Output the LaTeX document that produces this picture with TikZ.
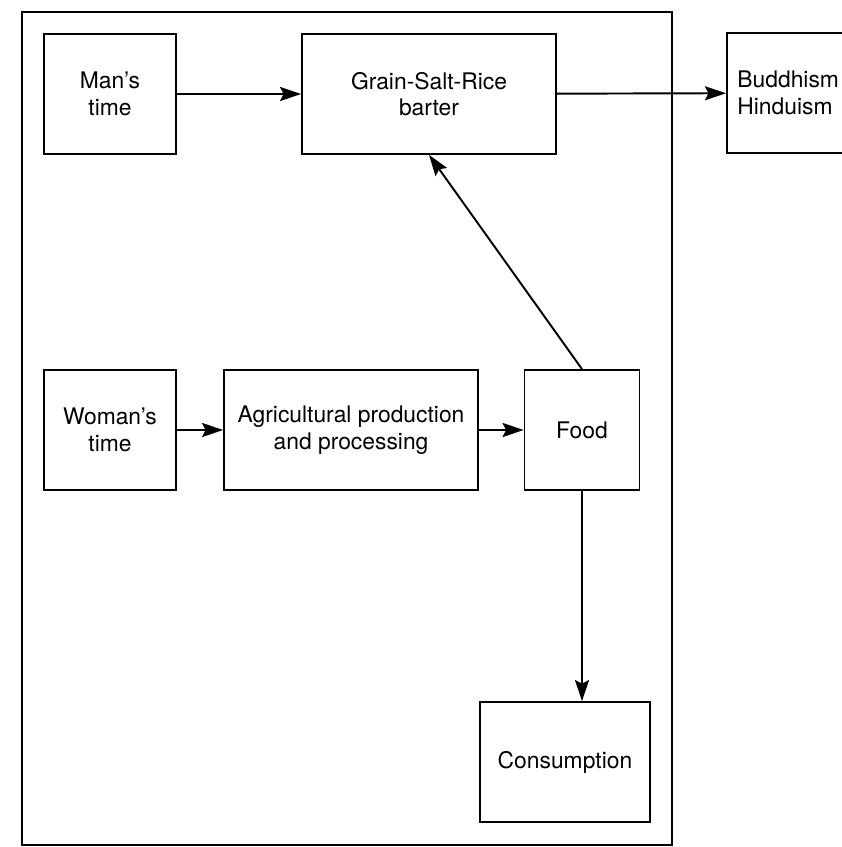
\documentclass[tikz,border=0pt]{standalone}
\usepackage{fontspec}
\setmainfont{TeX Gyre Heros}
\usetikzlibrary{arrows.meta}

\begin{document}
\begin{tikzpicture}[x=0.02cm,y=-0.02cm,
    box/.style={draw,line width=1pt,minimum height=2.4cm,align=center,font=\fontsize{13pt}{15pt}\selectfont},
    flow/.style={line width=1.1pt,-{Stealth[length=12pt,width=8pt,inset=2pt]}}]
\useasboundingbox (0,0) rectangle (841,847);
\draw[line width=1.2pt] (22,12) rectangle (672,845);
\node[box,minimum width=2.64cm] (man) at (110,94) {Man's\\time};
\node[box,minimum width=5.08cm] (barter) at (429,94) {Grain-Salt-Rice\\barter};
\node[box,text width=3.1cm,inner xsep=6pt,align=left,anchor=west] (belief) at (726,93) {Buddhism\\Hinduism};
\node[box,minimum width=2.64cm] (woman) at (110,430) {Woman's\\time};
\node[box,minimum width=5.08cm] (agri) at (351,430) {Agricultural production\\and processing};
\node[box,minimum width=2.3cm] (food) at (582,430) {Food};
\node[box,minimum width=3.4cm] (cons) at (565,762) {Consumption};
\draw[flow] (man) -- (barter);
\draw[flow] (barter) -- (belief);
\draw[flow] (woman) -- (agri);
\draw[flow] (agri) -- (food);
\draw[flow] (food.north) -- (barter.south);
\draw[flow] (food.south) -- (food.south |- cons.north);
\end{tikzpicture}
\end{document}
